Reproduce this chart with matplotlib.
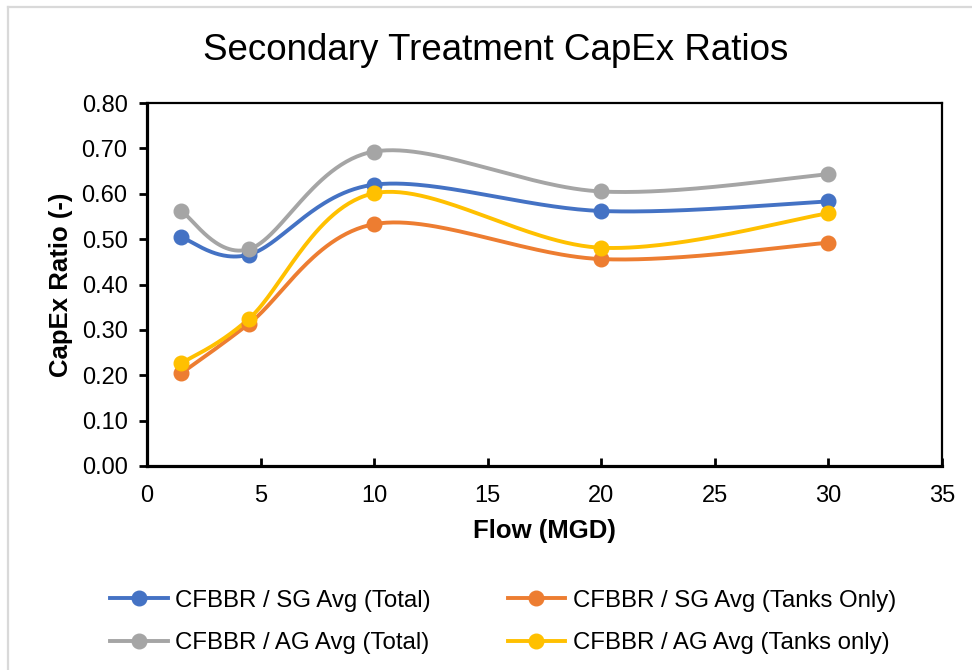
import numpy as np
import matplotlib
matplotlib.use("Agg")
import matplotlib.pyplot as plt
from matplotlib.lines import Line2D

plt.rcParams['font.family'] = ['Liberation Sans', 'DejaVu Sans']

# Flow rates (MGD) and CapEx ratios per comparison
flow = [1.5, 4.5, 10, 20, 30]
sg_total = [0.504, 0.466, 0.620, 0.562, 0.583]
sg_tanks = [0.204, 0.314, 0.533, 0.456, 0.492]
ag_total = [0.562, 0.478, 0.693, 0.605, 0.643]
ag_tanks = [0.226, 0.325, 0.601, 0.481, 0.557]

series = [
    ("CFBBR / SG Avg (Total)", sg_total, "#4472C4"),
    ("CFBBR / SG Avg (Tanks Only)", sg_tanks, "#ED7D31"),
    ("CFBBR / AG Avg (Total)", ag_total, "#A5A5A5"),
    ("CFBBR / AG Avg (Tanks only)", ag_tanks, "#FFC000"),
]

x_ticks = [0, 5, 10, 15, 20, 25, 30, 35]
y_ticks = [0.0, 0.1, 0.2, 0.3, 0.4, 0.5, 0.6, 0.7, 0.8]


def smooth_curve(xs, ys, n=60):
    """Cubic Bezier smoothing through the points (Catmull-Rom style tangents)."""
    p = np.column_stack([xs, ys]).astype(float)
    pts = np.vstack([p[0], p, p[-1]])
    out = []
    for i in range(1, len(pts) - 2):
        p0, p1, p2, p3 = pts[i - 1], pts[i], pts[i + 1], pts[i + 2]
        c1 = p1 + (p2 - p0) / 6.0
        c2 = p2 - (p3 - p1) / 6.0
        t = np.linspace(0, 1, n)[:, None]
        seg = ((1 - t) ** 3) * p1 + 3 * ((1 - t) ** 2) * t * c1 \
            + 3 * (1 - t) * t ** 2 * c2 + t ** 3 * p2
        out.append(seg if i == 1 else seg[1:])
    c = np.vstack(out)
    return c[:, 0], c[:, 1]


fig = plt.figure(figsize=(9.72, 6.70), dpi=100)
ax = fig.add_axes([147 / 972, 1 - 466 / 670, (942 - 147) / 972, (466 - 103) / 670])

handles = []
for label, vals, color in series:
    sx, sy = smooth_curve(flow, vals)
    ax.plot(sx, sy, color=color, lw=2.8, solid_capstyle='round', zorder=2)
    ax.plot(flow, vals, 'o', color=color, ms=10.5, zorder=3)
    handles.append(Line2D([], [], color=color, lw=2.8, marker='o', ms=10.5, label=label))

ax.set_xlim(0, 35)
ax.set_ylim(0, 0.8)
ax.set_xticks(x_ticks)
ax.set_yticks(y_ticks)
ax.set_yticklabels([f"{v:.2f}" for v in y_ticks])

ax.tick_params(axis='y', direction='out', length=6, width=2, labelsize=17, pad=8)
ax.tick_params(axis='x', direction='in', length=6, width=2, labelsize=17, pad=14)

for side in ('left', 'bottom'):
    ax.spines[side].set_linewidth(2.3)
for side in ('top', 'right'):
    ax.spines[side].set_linewidth(1.6)
for s in ax.spines.values():
    s.set_color('black')

ax.set_xlabel("Flow (MGD)", fontsize=18.5, fontweight='bold', labelpad=8)
ax.set_ylabel("CapEx Ratio (-)", fontsize=18.5, fontweight='bold', labelpad=6)

fig.text(496 / 972, 1 - 50 / 670, "Secondary Treatment CapEx Ratios",
         ha='center', va='center', fontsize=26.5)

# legend fills column by column: Total entries left, Tanks entries right
legend_order = [handles[0], handles[2], handles[1], handles[3]]
fig.legend(handles=legend_order, loc='center', ncol=2,
           bbox_to_anchor=(503 / 972, 1 - 622 / 670), frameon=False,
           fontsize=17.3, handlelength=2.4, handletextpad=0.3,
           columnspacing=3.2, labelspacing=0.85)

# chart-area border on the left and top edges
fig.add_artist(Line2D([7.5 / 972, 7.5 / 972], [0, 1 - 7 / 670],
                      transform=fig.transFigure, color='#D9D9D9', lw=1.6))
fig.add_artist(Line2D([7.5 / 972, 1], [1 - 7 / 670, 1 - 7 / 670],
                      transform=fig.transFigure, color='#D9D9D9', lw=1.6))

fig.savefig("out.png", dpi=100)
